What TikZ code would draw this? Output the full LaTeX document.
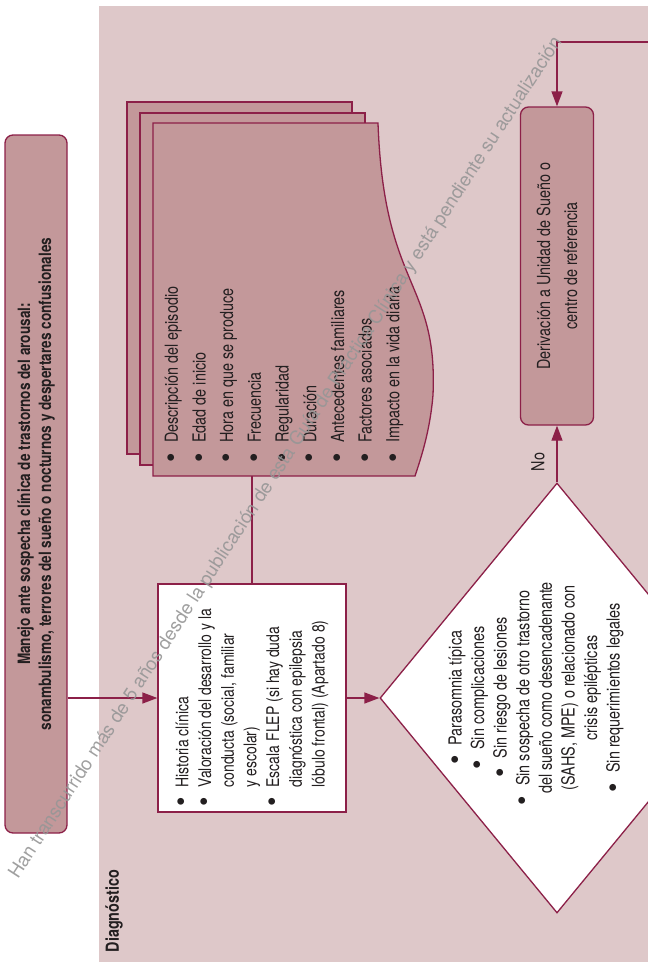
\documentclass[tikz,border=0pt]{standalone}
\usepackage{fontspec}
\setmainfont{TeX Gyre Heros}[FakeStretch=0.8]
\newfontfamily\marcafont{TeX Gyre Heros}
\usetikzlibrary{arrows.meta, shapes.geometric, positioning}
\definecolor{rosa_fondo}{RGB}{222,200,201}
\definecolor{rosa_caja}{RGB}{195,152,154}
\definecolor{granate}{RGB}{140,32,72}
\definecolor{texto_oscuro}{RGB}{35,31,32}
\definecolor{marca_gris}{RGB}{150,150,150}
\newcommand{\vineta}{\llap{\raisebox{-2.6pt}{\marcafont\fontsize{27}{0}\selectfont\textbullet}\hspace{10pt}}}

\begin{document}
\begin{tikzpicture}[x=1pt, y=-1pt, >={Triangle[length=15pt,width=11pt]},
    every node/.style={inner sep=0pt, text=texto_oscuro, font=\fontsize{18}{27}\selectfont},
    caja/.style={rotate=90, draw=granate, line width=1.3pt, fill=rosa_caja, rounded corners=8pt, align=center},
    hoja/.style={draw=granate, line width=1.3pt, fill=rosa_caja},
    flecha/.style={->, granate, line width=1.3pt}]
      \useasboundingbox (0,0) rectangle (648,962);
      \clip (0,0) rectangle (648,962);
      \fill[rosa_fondo] (99,6) rectangle (660,970);
      % titulo
      \node[caja, minimum width=698pt, minimum height=62pt, font=\bfseries\fontsize{17}{21}\selectfont] (titulo) at (36,484)
        {Manejo ante sospecha clínica de trastornos del arousal:\\sonambulismo, terrores del sueño o nocturnos y despertares confusionales};
      \node[rotate=90, font=\bfseries\fontsize{18}{22}\selectfont] (diagnostico) at (114,911) {Diagnóstico};
      % hojas apiladas
      \filldraw[hoja] (127,102) rectangle (352,454);
      \filldraw[hoja] (140,113) rectangle (365,465);
      \coordinate (hoja_so) at (153,476);
      \filldraw[hoja] (153,123) -- (378,123) .. controls (384,290) and (438,280) .. (433,395)
        .. controls (430,430) and (422,455) .. (415,476) -- (hoja_so) -- cycle;
      \node[rotate=90, anchor=west, align=left, font=\fontsize{18}{27.7}\selectfont] (sintomas) at (284,443)
        {\vineta Descripción del episodio\\\vineta Edad de inicio\\\vineta Hora en que se produce\\\vineta Frecuencia\\\vineta Regularidad\\\vineta Duración\\\vineta Antecedentes familiares\\\vineta Factores asociados\\\vineta Impacto en la vida diaria};
      % historia
      \node[rotate=90, draw=granate, line width=1.3pt, fill=white, minimum width=228pt, minimum height=188pt, align=left, font=\fontsize{17.5}{22.7}\selectfont] (historia) at (252,698)
        {\vineta Historia clínica\\\vineta Valoración del desarrollo y la\\conducta (social, familiar\\y escolar)\\\vineta Escala FLEP (si hay duda\\diagnóstica con epilepsia\\lóbulo frontal) (Apartado 8)};
      % decision
      \node[diamond, draw=granate, line width=1.3pt, fill=white, minimum width=354pt, minimum height=430pt] (criterios) at (557,698) {};
      \node[rotate=90, align=center, font=\fontsize{18}{22.6}\selectfont] (criterios_txt) at (536,688)
        {\vineta Parasomnia típica\\\vineta Sin complicaciones\\\vineta Sin riesgo de lesiones\\\vineta Sin sospecha de otro trastorno\\del sueño como desencadenante\\(SAHS, MPE) o relacionado con\\crisis epilépticas\\\vineta Sin requerimientos legales};
      % derivacion
      \node[caja, minimum width=318pt, minimum height=73pt] (derivacion) at (557,266)
        {Derivación a Unidad de Sueño o\\centro de referencia};
      \node[rotate=90] (no) at (538,462) {No};
      \coordinate (retorno) at (660,42);
      \draw[flecha] (titulo.south |- historia.center) -- (historia.north);
      \draw[granate, line width=1.3pt] (historia.east) -- (historia.east |- hoja_so);
      \draw[flecha] (historia.south) -- (criterios.west);
      \draw[flecha] (criterios.north) -- (derivacion.west);
      \draw[flecha] (retorno) -| (derivacion.east);
      % marca de agua
      \node[rotate=57, text=marca_gris, opacity=0.9, font=\marcafont\fontsize{18.8}{22}\selectfont] (marca) at (286,458)
        {Han transcurrido más de 5 años desde la publicación de esta Guía de Práctica Clínica y está pendiente su actualización};
    \end{tikzpicture}
\end{document}
